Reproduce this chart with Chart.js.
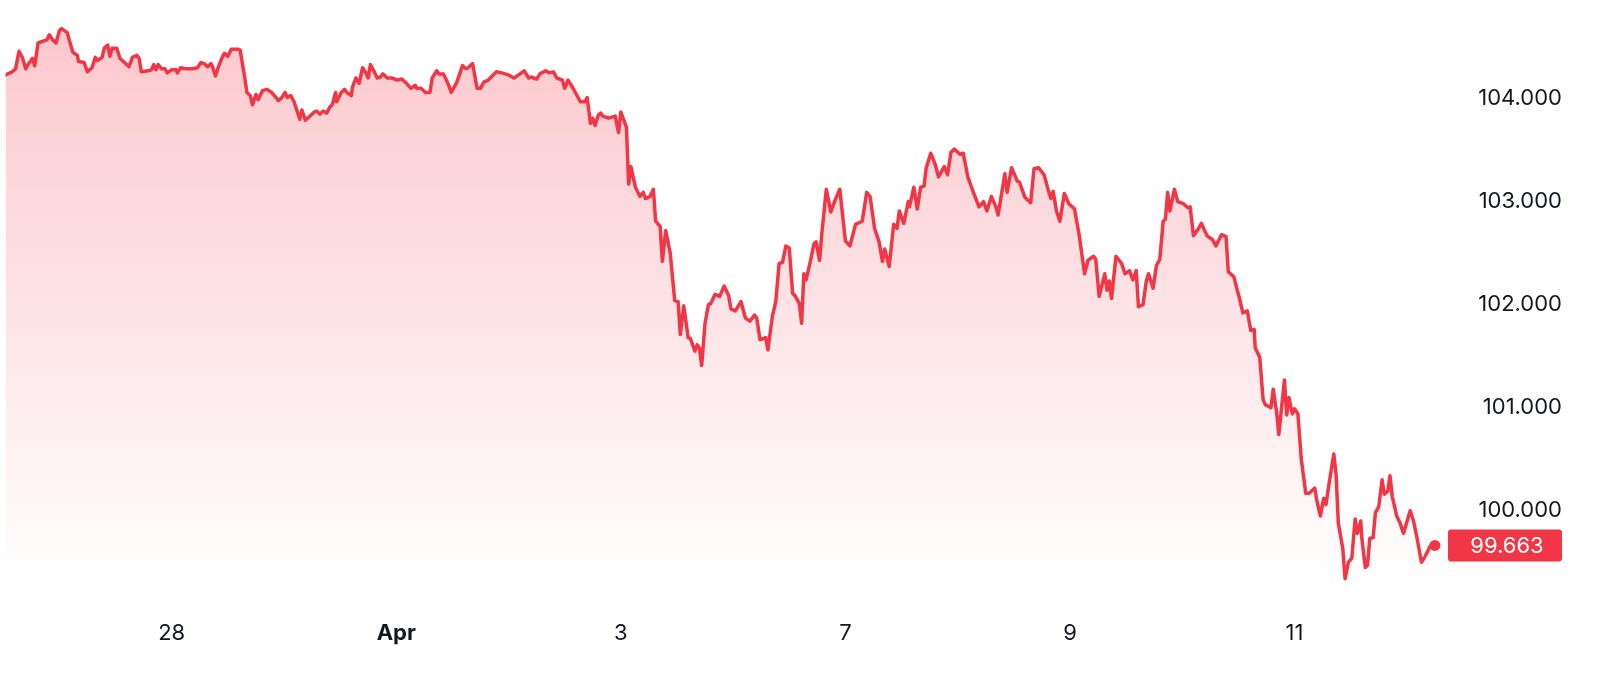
<!DOCTYPE html>
<html>
<head>
<meta charset="utf-8">
<script src="https://cdn.jsdelivr.net/npm/chart.js@4.4.1/dist/chart.umd.min.js"></script>
<style>
  html, body { margin: 0; padding: 0; background: #ffffff; }
  #wrap { width: 1600px; height: 692px; position: relative; }
</style>
</head>
<body>
<div id="wrap"><canvas id="dxy"></canvas></div>
<script>
// trading-day offset from Mar 28 (0 = 28, 2 = Apr 1, ...)
const times = [
  -1.48,-1.42,-1.39,-1.36,-1.33,-1.30,-1.28,-1.24,-1.22,-1.19,-1.14,-1.11,-1.09,-1.06,-1.03,-1.00,-0.98,-0.93,-0.91,-0.88,
  -0.84,-0.83,-0.78,-0.75,-0.71,-0.68,-0.66,-0.62,-0.60,-0.57,-0.55,-0.53,-0.49,-0.46,-0.42,-0.38,-0.35,-0.31,-0.29,-0.27,
  -0.21,-0.18,-0.16,-0.14,-0.12,-0.09,-0.06,-0.04,0.00,0.04,0.05,0.08,0.12,0.18,0.23,0.26,0.29,0.32,0.35,0.36,
  0.39,0.42,0.45,0.47,0.50,0.53,0.59,0.61,0.65,
  0.67,0.70,0.72,0.75,0.77,0.81,0.85,0.89,0.93,0.95,0.98,1.01,1.03,1.06,1.09,1.12,1.14,1.16,1.19,1.22,
  1.27,1.29,1.32,1.35,1.38,1.41,1.43,1.46,1.47,1.51,1.54,1.56,1.60,1.61,1.64,1.67,1.70,1.73,1.75,1.77,
  1.80,1.83,1.86,1.88,1.92,1.96,2.01,2.05,2.09,2.13,2.17,2.18,2.22,2.26,2.30,2.32,2.36,2.38,2.42,2.46,
  2.49,2.54,2.59,2.62,2.64,2.68,2.72,2.75,2.78,2.82,
  2.89,2.94,3.00,3.05,3.09,3.14,3.18,3.20,3.25,3.28,3.33,3.36,3.40,3.43,3.48,3.50,3.53,3.57,3.60,3.64,
  3.68,3.70,3.73,3.75,3.77,3.80,3.82,
  3.84,3.89,3.95,3.98,4.00,4.05,4.07,4.09,4.13,4.17,4.20,4.22,4.26,4.29,4.31,4.35,4.37,4.40,4.44,4.48,
  4.51,4.53,4.56,4.60,4.62,4.66,4.68,4.70,4.72,4.75,4.78,4.80,4.84,4.88,4.92,4.96,4.98,5.02,5.07,5.11,
  5.15,5.19,5.21,5.24,5.29,5.31,5.35,5.38,5.41,5.44,5.47,5.50,5.53,5.55,5.59,5.61,5.63,5.65,5.69,5.72,
  5.74,5.77,5.79,5.83,5.87,5.91,5.95,6.00,6.04,
  6.09,6.15,6.19,6.22,6.26,6.30,6.33,6.35,6.39,6.43,6.46,6.48,6.52,6.56,6.57,6.61,6.64,6.67,6.70,6.72,
  6.76,6.80,6.83,6.88,6.91,6.94,6.97,7.02,7.05,7.09,7.14,7.19,7.23,7.26,7.30,7.34,7.36,7.42,7.44,7.48,
  7.53,7.55,7.60,7.65,7.68,7.72,7.77,7.81,7.83,7.85,7.88,7.91,7.95,7.99,8.04,8.08,8.13,8.16,8.21,8.23,
  8.26,8.31,8.33,8.35,8.37,8.41,8.46,8.49,8.53,8.56,8.59,8.61,8.65,8.68,8.70,8.74,8.77,8.80,8.83,8.85,
  8.87,8.89,8.93,8.96,9.01,9.05,9.07,
  9.10,9.14,9.17,9.22,9.27,9.30,9.35,9.39,9.41,9.46,9.49,9.51,9.54,9.58,9.61,9.64,9.65,9.69,9.72,9.74,
  9.79,9.81,9.84,9.86,9.91,9.93,9.95,9.98,10.00,10.03,10.06,10.10,10.13,10.18,10.20,10.23,10.26,10.28,10.31,10.35,
  10.37,10.39,10.43,10.45,10.48,10.51,10.54,10.56,10.59,10.60,10.63,10.65,10.67,10.70,10.72,10.75,10.78,10.80,10.83,10.85,
  10.87,10.91,10.94,10.97,11.03,11.06,11.09,11.13,11.16,11.21,11.25
];

const values = [
  104.23,104.26,104.29,104.46,104.40,104.29,104.33,104.39,104.32,104.54,104.56,104.57,104.62,104.57,104.54,104.66,104.68,104.64,104.56,104.45,
  104.42,104.36,104.35,104.26,104.30,104.40,104.37,104.40,104.49,104.52,104.41,104.49,104.49,104.39,104.35,104.31,104.40,104.42,104.39,104.26,
  104.27,104.28,104.33,104.28,104.33,104.29,104.29,104.25,104.28,104.28,104.25,104.30,104.29,104.29,104.30,104.35,104.34,104.31,104.34,104.32,
  104.22,104.32,104.40,104.44,104.41,104.48,104.48,104.47,104.21,
  104.06,104.03,103.94,104.04,103.99,104.08,104.09,104.06,104.01,103.98,104.01,104.06,104.01,104.03,103.97,103.87,103.80,103.89,103.79,103.82,
  103.87,103.88,103.85,103.88,103.86,103.92,103.94,104.06,103.97,104.06,104.09,104.06,104.03,104.11,104.20,104.15,104.30,104.25,104.20,104.33,
  104.27,104.20,104.21,104.24,104.20,104.20,104.18,104.19,104.15,104.10,104.13,104.10,104.10,104.06,104.06,104.20,104.27,104.24,104.24,104.15,
  104.06,104.16,104.32,104.29,104.30,104.34,104.10,104.10,104.16,104.18,
  104.26,104.25,104.23,104.20,104.23,104.27,104.20,104.21,104.19,104.24,104.27,104.25,104.26,104.20,104.18,104.10,104.18,104.11,104.05,103.97,
  103.97,104.01,103.76,103.81,103.74,103.84,103.86,
  103.83,103.81,103.83,103.67,103.87,103.72,103.17,103.34,103.14,103.05,103.09,103.03,103.05,103.12,102.81,102.76,102.42,102.72,102.50,102.04,
  102.03,101.71,101.99,101.68,101.67,101.55,101.61,101.58,101.41,101.82,102.00,102.01,102.10,102.08,102.18,102.09,101.96,101.94,102.03,101.87,
  101.84,101.90,101.87,101.66,101.68,101.56,101.89,102.03,102.40,102.41,102.57,102.55,102.11,102.09,102.01,101.82,102.30,102.24,102.43,102.59,
  102.61,102.43,102.69,103.12,102.90,103.02,103.12,102.62,102.57,
  102.78,102.81,103.09,103.05,102.74,102.61,102.42,102.54,102.37,102.78,102.74,102.91,102.79,103.00,102.95,103.14,102.93,103.14,103.15,103.33,
  103.47,103.36,103.24,103.34,103.26,103.48,103.51,103.46,103.47,103.24,103.09,102.95,103.00,102.91,103.05,102.95,102.87,103.27,103.09,103.33,
  103.20,103.19,103.04,102.99,103.32,103.33,103.26,103.10,103.03,103.10,102.91,102.81,103.08,102.98,102.93,102.69,102.30,102.43,102.47,102.44,
  102.08,102.30,102.14,102.23,102.06,102.47,102.40,102.30,102.33,102.24,102.33,101.98,102.00,102.23,102.30,102.16,102.38,102.44,102.81,102.83,
  103.09,102.91,103.12,103.00,102.98,102.94,102.95,
  102.67,102.73,102.79,102.67,102.63,102.57,102.68,102.66,102.32,102.27,102.14,102.06,101.92,101.94,101.75,101.76,101.58,101.49,101.08,101.03,
  101.00,101.18,100.96,100.74,101.27,100.93,101.10,100.94,100.99,100.94,100.50,100.17,100.17,100.22,100.09,99.95,100.12,100.06,100.28,100.55,
  100.35,99.88,99.63,99.34,99.50,99.54,99.92,99.78,99.90,99.73,99.45,99.47,99.73,99.74,99.98,100.04,100.30,100.16,100.19,100.34,
  100.14,99.95,99.88,99.78,100.00,99.90,99.74,99.50,99.55,99.66,99.663
];

const tickDays = [0, 2, 4, 6, 8, 10];
const tickNames = ['28', 'Apr', '3', '7', '9', '11'];
const priceTicks = [100, 101, 102, 103, 104];

const RED = '#f23645';
const FONT = 'Inter, "Noto Sans", sans-serif';

const lastLabel = {
    id: 'lastLabel',
    afterDraw(chart) {
        const c = chart.ctx;
        const ys = chart.scales.y;
        const last = values[values.length - 1];
        const py = ys.getPixelForValue(last);
        const left = chart.chartArea.right + 3;
        const right = ys.right;
        const h = 32;
        c.save();
        c.fillStyle = RED;
        c.beginPath();
        c.roundRect(left, py - h / 2, right - left, h, 3);
        c.fill();
        c.fillStyle = '#ffffff';
        c.font = '22px ' + FONT;
        c.textAlign = 'center';
        c.textBaseline = 'middle';
        c.fillText(last.toFixed(3), (left + right) / 2 + 2, py + 1);
        c.restore();
    }
};

const ctx = document.getElementById('dxy').getContext('2d');

new Chart(ctx, {
    type: 'line',
    data: {
        datasets: [{
            data: times.map((t, i) => ({ x: t, y: values[i] })),
            borderColor: RED,
            borderWidth: 3.5,
            borderJoinStyle: 'round',
            borderCapStyle: 'round',
            tension: 0,
            fill: 'start',
            backgroundColor: (context) => {
                const area = context.chart.chartArea;
                if (!area) return 'rgba(242,54,69,0.2)';
                const g = context.chart.ctx.createLinearGradient(0, area.top, 0, area.bottom);
                g.addColorStop(0, 'rgba(242,54,69,0.28)');
                g.addColorStop(1, 'rgba(242,54,69,0.0)');
                return g;
            },
            pointRadius: (c) => c.dataIndex === values.length - 1 ? 5.5 : 0,
            pointBackgroundColor: RED,
            pointBorderWidth: 0,
            pointHoverRadius: 0
        }]
    },
    options: {
        responsive: true,
        maintainAspectRatio: false,
        animation: false,
        layout: { padding: { top: 10, right: 38, left: 0, bottom: 0 } },
        plugins: { legend: { display: false }, tooltip: { enabled: false } },
        scales: {
            x: {
                type: 'linear',
                min: -1.48,
                max: 11.34,
                grid: { display: false },
                border: { display: false },
                afterBuildTicks: (s) => { s.ticks = tickDays.map(v => ({ value: v })); },
                afterFit: (s) => { s.height = 104; },
                ticks: {
                    padding: 24,
                    color: '#131722',
                    maxRotation: 0,
                    autoSkip: false,
                    font: (c) => ({ family: FONT, size: 22, weight: c.tick && c.tick.value === 2 ? 'bold' : 'normal' }),
                    callback: (v) => tickNames[tickDays.indexOf(v)]
                }
            },
            y: {
                position: 'right',
                min: 99.25,
                max: 104.8,
                grid: { display: false },
                border: { display: false },
                afterBuildTicks: (s) => { s.ticks = priceTicks.map(v => ({ value: v })); },
                afterFit: (s) => { s.width = 117; },
                ticks: {
                    crossAlign: 'far',
                    color: '#131722',
                    font: { family: FONT, size: 22 },
                    callback: (v) => v.toFixed(3)
                }
            }
        }
    },
    plugins: [lastLabel]
});
</script>
</body>
</html>
